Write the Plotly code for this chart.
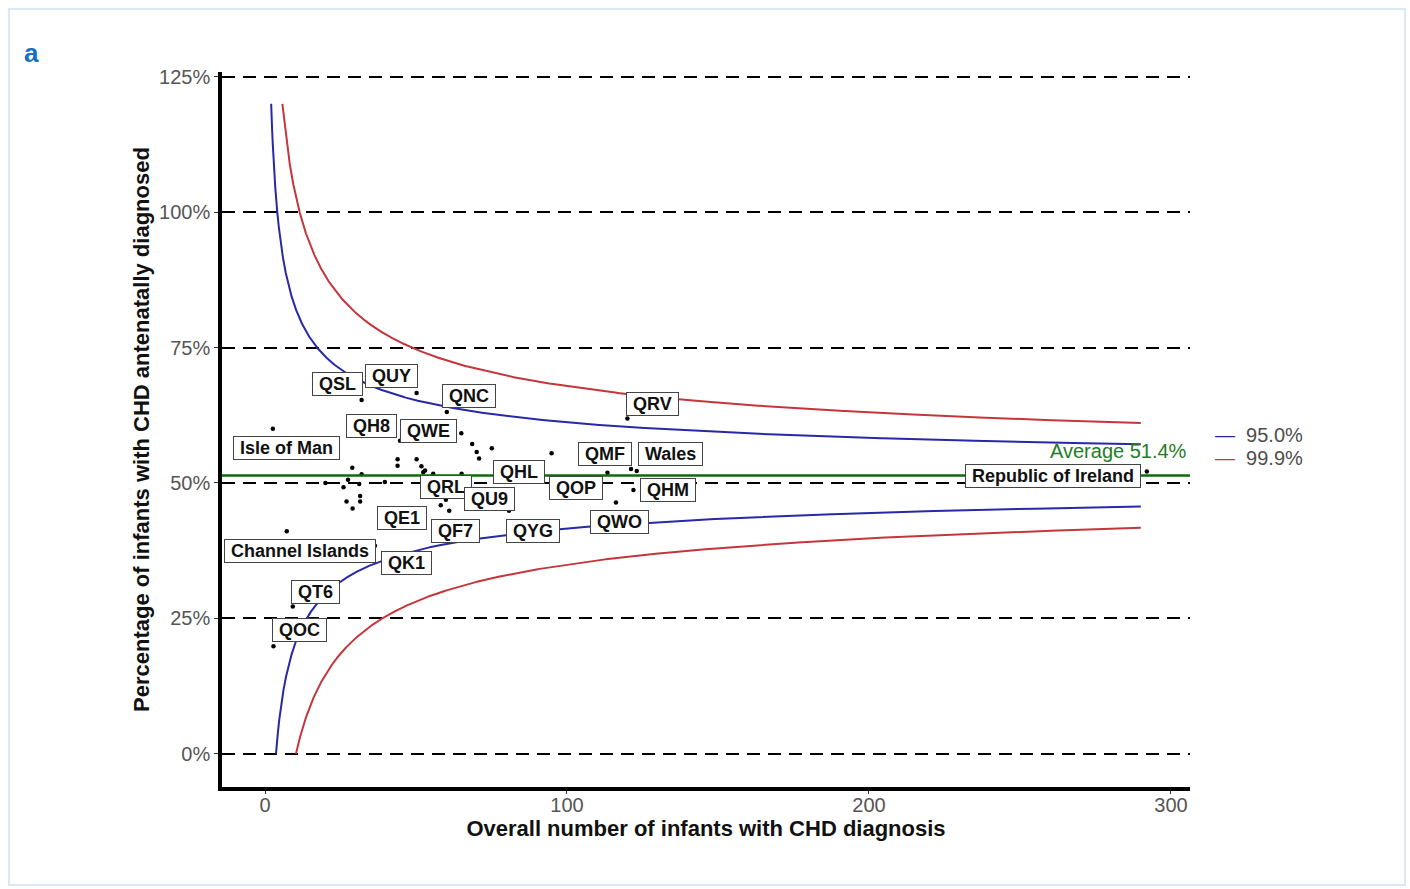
import numpy as np
import plotly.graph_objects as go

# Canvas and plot-area geometry (pixels)
W, H = 1410, 889
L, R, T, B = 222, 1190, 72, 787

X_RANGE = [-14.24, 306.3]
Y_RANGE = [-6.09, 125.83]

# Units: number of infants with CHD diagnosis and % diagnosed antenatally
units = [
    "Isle of Man", "Channel Islands", "QT6", "QOC", "QSL", "QUY", "QNC", "QH8",
    "QWE", "QRV", "QMF", "Wales", "QHM", "QWO", "Republic of Ireland", "QHL",
    "QOP", "QRL", "QU9", "QE1", "QF7", "QYG", "QK1",
    "", "", "", "", "", "", "", "", "", "", "", "", "", "", "", "", "", "", "",
    "", "", "", "",
]
n_infants = [
    2.6, 7.2, 9.2, 2.8, 32.0, 50.2, 60.2, 44.7,
    65.0, 120.0, 113.4, 123.1, 122.0, 116.2, 292.0, 75.1,
    94.9, 59.9, 67.1, 58.2, 61.0, 80.8, 36.4,
    68.6, 70.1, 70.9, 121.2, 43.9, 43.9, 50.2, 51.8, 53.0, 55.7, 65.1, 28.9,
    32.0, 27.5, 31.2, 26.0, 20.0, 39.7, 27.0,
    29.0, 31.5, 31.5, 52.4,
]
pct_antenatal = [
    60.0, 41.1, 27.2, 19.9, 65.3, 66.6, 63.1, 57.8,
    59.2, 61.9, 51.9, 52.2, 48.7, 46.4, 52.1, 56.4,
    55.5, 46.9, 45.5, 45.9, 44.9, 44.9, 38.4,
    57.2, 55.7, 54.5, 52.6, 54.4, 53.2, 54.4, 53.1, 52.3, 51.7, 51.7, 52.8,
    51.6, 50.6, 49.8, 49.2, 50.0, 50.2, 46.6,
    45.3, 47.6, 46.6, 52.0,
]

# Label placement: pixel offset of each label box centre from its point
label_offsets = {
    "Isle of Man": (14, 19), "Channel Islands": (13, 20), "QT6": (23, -15),
    "QOC": (26, -16), "QSL": (-24, -16), "QUY": (-25, -17), "QNC": (22, -16),
    "QH8": (-28, -15), "QWE": (-33, -2), "QRV": (25, -15), "QMF": (-2, -19),
    "Wales": (34, -17), "QHM": (35, 0), "QWO": (4, 19),
    "Republic of Ireland": (-94, 4), "QHL": (27, 24), "QOP": (24, 35),
    "QRL": (0, -13), "QU9": (22, -8), "QE1": (-39, 13), "QF7": (6, 20),
    "QYG": (24, 20), "QK1": (32, 17),
}

AVERAGE = 51.4
Z_95 = 1.96
Z_999 = 3.29
N_MAX = 290
Y_CAP = 120

BLUE = "#2828a8"
RED = "#c4363b"
GREEN_LINE = "#0d6b0d"
GREEN_TEXT = "#1f7d25"
FONT = "Liberation Sans, Arial, sans-serif"


def px_x(px):
    return (px - L) / (R - L)


def px_y(py):
    return (B - py) / (B - T)


# Funnel control limits around the average proportion
n_grid = np.geomspace(1, N_MAX, 4000)
p = AVERAGE / 100
se = np.sqrt(p * (1 - p) / n_grid) * 100


def limit(z, sign):
    v = AVERAGE + sign * z * se
    v = np.where((v > Y_CAP) | (v < 0), np.nan, v)
    return v


fig = go.Figure()

for z, color in [(Z_95, BLUE), (Z_999, RED)]:
    for sign in (1, -1):
        fig.add_trace(go.Scatter(
            x=n_grid, y=limit(z, sign), mode="lines",
            line=dict(color=color, width=2), showlegend=False,
            hoverinfo="skip",
        ))

fig.add_trace(go.Scatter(
    x=n_infants, y=pct_antenatal, mode="markers",
    marker=dict(color="black", size=4.5), showlegend=False,
    text=units,
))

# Average line
fig.add_shape(type="line", xref="paper", yref="y", x0=0, x1=1,
              y0=AVERAGE, y1=AVERAGE, line=dict(color=GREEN_LINE, width=2.5),
              layer="above")

annotations = []
for name, n, v in zip(units, n_infants, pct_antenatal):
    if not name:
        continue
    dx, dy = label_offsets[name]
    annotations.append(dict(
        x=n, y=v, xref="x", yref="y", text="<b> %s </b>" % name,
        showarrow=False, xanchor="center", yanchor="middle",
        xshift=dx, yshift=-dy,
        font=dict(family=FONT, size=18, color="#111111"),
        bgcolor="white", bordercolor="#444444", borderwidth=1, borderpad=1,
    ))

annotations.append(dict(
    x=px_x(1189), y=AVERAGE, xref="paper", yref="y",
    text="Average %.1f%%" % AVERAGE, showarrow=False,
    xanchor="right", yanchor="middle", yshift=24,
    font=dict(family=FONT, size=20, color=GREEN_TEXT),
))

# Legend for the control limits
for i, (lab, color) in enumerate([("95.0%", BLUE), ("99.9%", RED)]):
    yy = 435 + i * 23
    annotations.append(dict(
        x=px_x(1213), y=px_y(yy), xref="paper", yref="paper",
        text="<span style='color:%s'>—</span>  %s" % (color, lab),
        showarrow=False, xanchor="left", yanchor="middle",
        font=dict(family=FONT, size=20, color="#4d4d4d"),
    ))

# Panel letter
annotations.append(dict(
    x=px_x(22), y=px_y(53), xref="paper", yref="paper", text="<b>a</b>",
    showarrow=False, xanchor="left", yanchor="middle",
    font=dict(family=FONT, size=26, color="#1470c0"),
))

# Panel frame
fig.add_shape(type="rect", xref="paper", yref="paper",
              x0=px_x(9), x1=px_x(1405), y0=px_y(885), y1=px_y(9),
              line=dict(color="#dbe9f6", width=2), layer="below")

fig.update_layout(
    width=W, height=H,
    margin=dict(l=L, r=W - R, t=T, b=H - B, pad=0),
    paper_bgcolor="white", plot_bgcolor="white",
    font=dict(family=FONT),
    annotations=annotations,
    showlegend=False,
)

fig.update_xaxes(
    range=X_RANGE, tickvals=[0, 100, 200, 300], showgrid=False,
    zeroline=False, showline=True, linecolor="black", linewidth=3.5,
    ticks="outside", ticklen=3, tickcolor="#333333", ticklabelstandoff=-6,
    tickfont=dict(family=FONT, size=20, color="#555555"),
    title=dict(text="<b>Overall number of infants with CHD diagnosis</b>",
               font=dict(family=FONT, size=22, color="#111111"), standoff=4),
)
fig.update_yaxes(
    range=Y_RANGE, tickvals=[0, 25, 50, 75, 100, 125],
    ticktext=["0%", "25%", "50%", "75%", "100%", "125%"],
    showgrid=True, gridcolor="black", gridwidth=2, griddash="13px,8px",
    zeroline=False, showline=True, linecolor="black", linewidth=3.5,
    ticks="outside", ticklen=4, tickcolor="#333333",
    tickfont=dict(family=FONT, size=20, color="#555555"),
    title=dict(text="<b>Percentage of infants with CHD antenatally diagnosed</b>",
               font=dict(family=FONT, size=22, color="#111111"), standoff=4),
)

fig.write_html("out.html")
